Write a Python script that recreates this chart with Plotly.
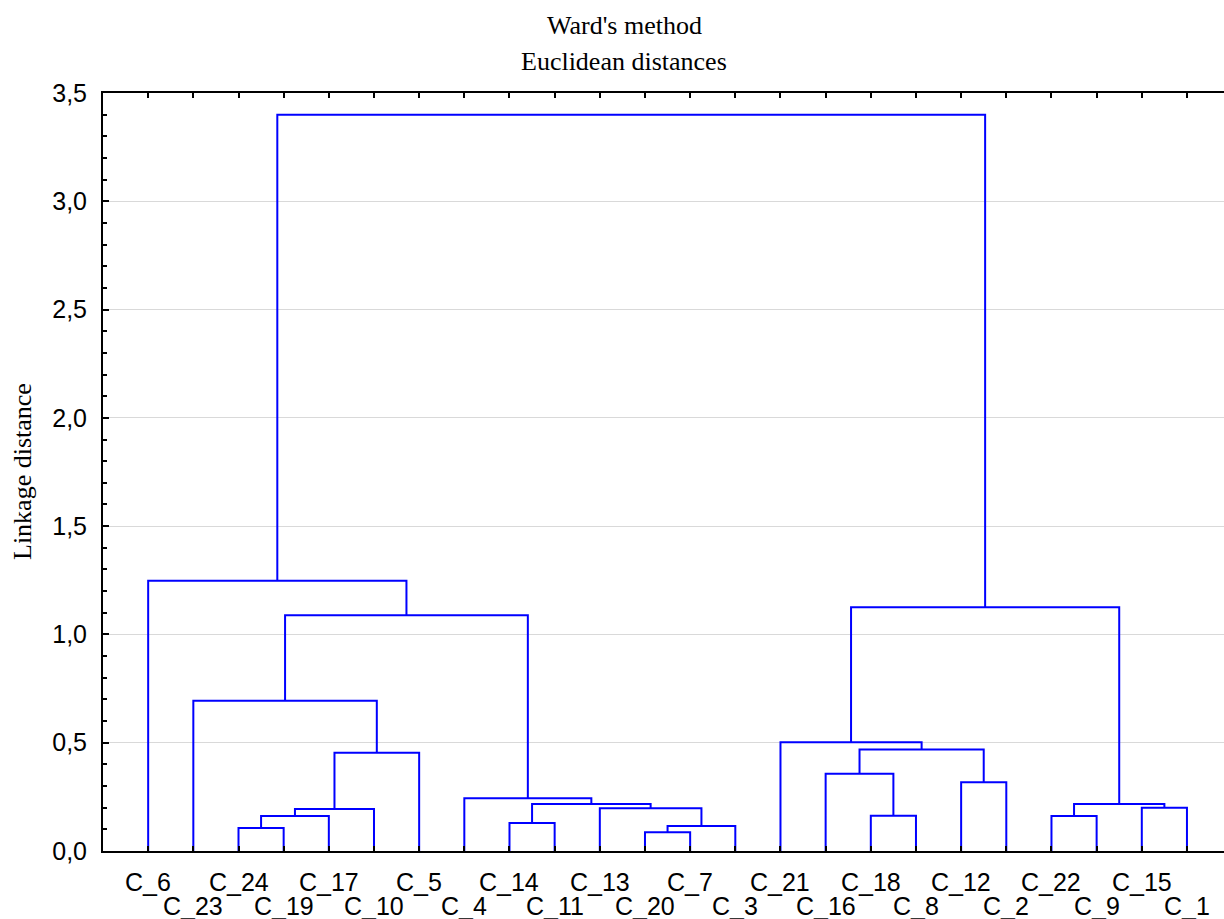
import plotly.graph_objects as go

# Leaf order along the x axis
leaves = ["C_6", "C_23", "C_24", "C_19", "C_17", "C_10", "C_5", "C_4", "C_14", "C_11",
          "C_13", "C_20", "C_7", "C_3", "C_21", "C_16", "C_18", "C_8", "C_12", "C_2",
          "C_22", "C_9", "C_15", "C_1"]

# Merges (Ward's method): left member, right member, linkage distance
merge_names = ["m1", "m2", "m3", "m4", "m5", "m6", "m7", "m8", "m9", "m10", "m11", "m12",
               "m13", "m14", "m15", "m16", "m17", "m18", "m19", "m20", "m21", "m22", "m23"]
merge_left = ["C_24", "m1", "m2", "m3", "C_23", "C_14", "C_20", "m7", "C_13", "m6", "C_4",
              "m5", "C_6", "C_18", "C_16", "C_12", "m15", "C_21", "C_22", "C_15", "m19",
              "m18", "m13"]
merge_right = ["C_19", "C_17", "C_10", "C_5", "m4", "C_11", "C_7", "C_3", "m8", "m9", "m10",
               "m11", "m12", "C_8", "m14", "C_2", "m16", "m17", "C_9", "C_1", "m20",
               "m21", "m22"]
merge_height = [0.106, 0.162, 0.194, 0.454, 0.694, 0.129, 0.086, 0.115, 0.197, 0.217, 0.243,
                1.089, 1.248, 0.163, 0.357, 0.318, 0.469, 0.502, 0.162, 0.200, 0.217,
                1.126, 3.40]

y_ticks = [0.0, 0.5, 1.0, 1.5, 2.0, 2.5, 3.0, 3.5]

# positions of leaves and merged clusters
pos = {name: i + 1 for i, name in enumerate(leaves)}
hgt = {name: 0.0 for name in leaves}
xs, ys = [], []
for name, a, b, h in zip(merge_names, merge_left, merge_right, merge_height):
    xa, xb = pos[a], pos[b]
    xs += [xa, xa, xb, xb, None]
    ys += [hgt[a], h, h, hgt[b], None]
    pos[name] = (xa + xb) / 2
    hgt[name] = h

fig = go.Figure()
fig.add_trace(go.Scatter(x=xs, y=ys, mode="lines",
                         line=dict(color="#0000ff", width=2),
                         hoverinfo="skip", showlegend=False))

tickfont = dict(family="Liberation Sans, Arial, sans-serif", size=25, color="black")
serif = dict(family="Liberation Serif, Times New Roman, serif", size=26, color="black")

annotations = []
for i, lab in enumerate(leaves):
    row = i % 2
    annotations.append(dict(x=i + 1, y=0, xref="x", yref="paper", text=lab,
                            showarrow=False, xanchor="center", yanchor="middle",
                            yshift=-31 if row == 0 else -55, font=tickfont))

title_x = (624 - 103) / 1121
annotations.append(dict(x=title_x, y=1, xref="paper", yref="paper", text="Ward's method",
                        showarrow=False, xanchor="center", yanchor="middle", yshift=68,
                        font=serif))
annotations.append(dict(x=title_x, y=1, xref="paper", yref="paper", text="Euclidean distances",
                        showarrow=False, xanchor="center", yanchor="middle", yshift=32,
                        font=serif))
annotations.append(dict(x=0, y=0.5, xref="paper", yref="paper", text="Linkage distance",
                        showarrow=False, xanchor="center", yanchor="middle", xshift=-81,
                        textangle=-90, font=serif))

fig.update_layout(
    width=1224, height=919,
    margin=dict(l=103, r=0, t=93, b=68),
    plot_bgcolor="white", paper_bgcolor="white",
    separators=", ",
    annotations=annotations,
    xaxis=dict(range=[0, 24.82], tickvals=list(range(1, len(leaves) + 1)),
               showticklabels=False, ticks="inside", ticklen=5, tickwidth=2,
               tickcolor="black", showline=True, linecolor="black", linewidth=2,
               mirror="ticks", showgrid=False, zeroline=False, fixedrange=True),
    yaxis=dict(range=[0, 3.5], tickvals=y_ticks, tickformat=".1f",
               ticks="inside", ticklen=6, tickwidth=2, tickcolor="black",
               showline=True, linecolor="black", linewidth=2, mirror=False,
               showgrid=True, gridcolor="#d9d9d9", gridwidth=1, zeroline=False,
               tickfont=tickfont, ticklabelstandoff=9,
               minor=dict(dtick=0.1, ticks="inside", ticklen=4, tickwidth=1.5,
                          tickcolor="black", showgrid=False)),
)

fig.write_html("out.html", config={"displayModeBar": False},
               post_script="document.body.style.margin='0';document.body.style.overflow='hidden';")
